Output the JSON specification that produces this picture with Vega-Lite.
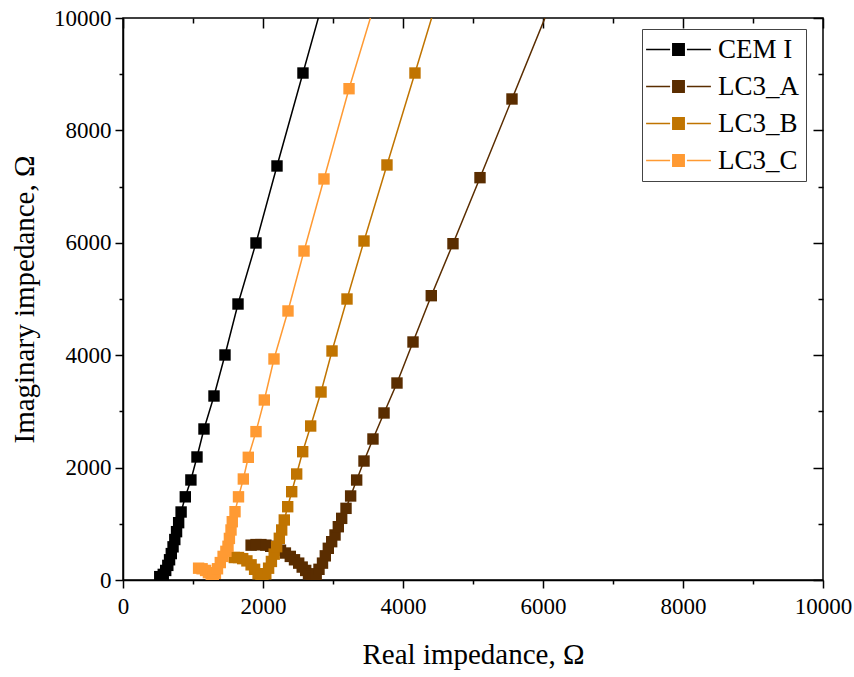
{
  "$schema": "https://vega.github.io/schema/vega-lite/v6.json",
  "width": 700,
  "height": 562,
  "autosize": {"type": "none"},
  "padding": {"left": 123, "top": 18, "right": 31, "bottom": 97},
  "background": "white",
  "config": {
    "font": "Liberation Serif",
    "view": {"stroke": "black", "strokeWidth": 1.5},
    "axis": {
      "grid": false,
      "domainColor": "black",
      "tickColor": "black",
      "tickWidth": 1.5,
      "domainWidth": 1.5,
      "labelColor": "black",
      "titleColor": "black",
      "labelFont": "Liberation Serif",
      "titleFont": "Liberation Serif",
      "labelFontSize": 23,
      "titleFontSize": 29,
      "titleFontWeight": "normal"
    }
  },
  "data": {
    "values": [
      {"s": "CEM I", "x": 525, "y": 60},
      {"s": "CEM I", "x": 575, "y": 100},
      {"s": "CEM I", "x": 610, "y": 170},
      {"s": "CEM I", "x": 640, "y": 260},
      {"s": "CEM I", "x": 665, "y": 360},
      {"s": "CEM I", "x": 690, "y": 470},
      {"s": "CEM I", "x": 715, "y": 590},
      {"s": "CEM I", "x": 740, "y": 720},
      {"s": "CEM I", "x": 765, "y": 860},
      {"s": "CEM I", "x": 795, "y": 1020},
      {"s": "CEM I", "x": 830, "y": 1210},
      {"s": "CEM I", "x": 890, "y": 1480},
      {"s": "CEM I", "x": 970, "y": 1780},
      {"s": "CEM I", "x": 1057, "y": 2189},
      {"s": "CEM I", "x": 1157, "y": 2687},
      {"s": "CEM I", "x": 1300, "y": 3274},
      {"s": "CEM I", "x": 1457, "y": 4004},
      {"s": "CEM I", "x": 1643, "y": 4911},
      {"s": "CEM I", "x": 1900, "y": 5997},
      {"s": "CEM I", "x": 2200, "y": 7367},
      {"s": "CEM I", "x": 2571, "y": 9021},
      {"s": "CEM I", "x": 3030, "y": 11070},

      {"s": "LC3_A", "x": 1830, "y": 620},
      {"s": "LC3_A", "x": 1900, "y": 630},
      {"s": "LC3_A", "x": 1970, "y": 630},
      {"s": "LC3_A", "x": 2040, "y": 620},
      {"s": "LC3_A", "x": 2110, "y": 600},
      {"s": "LC3_A", "x": 2180, "y": 570},
      {"s": "LC3_A", "x": 2250, "y": 530},
      {"s": "LC3_A", "x": 2320, "y": 480},
      {"s": "LC3_A", "x": 2390, "y": 420},
      {"s": "LC3_A", "x": 2450, "y": 360},
      {"s": "LC3_A", "x": 2510, "y": 300},
      {"s": "LC3_A", "x": 2560, "y": 230},
      {"s": "LC3_A", "x": 2610, "y": 170},
      {"s": "LC3_A", "x": 2650, "y": 110},
      {"s": "LC3_A", "x": 2690, "y": 60},
      {"s": "LC3_A", "x": 2720, "y": 40},
      {"s": "LC3_A", "x": 2760, "y": 100},
      {"s": "LC3_A", "x": 2800, "y": 190},
      {"s": "LC3_A", "x": 2850, "y": 300},
      {"s": "LC3_A", "x": 2890, "y": 430},
      {"s": "LC3_A", "x": 2933, "y": 564},
      {"s": "LC3_A", "x": 2981, "y": 682},
      {"s": "LC3_A", "x": 3029, "y": 801},
      {"s": "LC3_A", "x": 3076, "y": 948},
      {"s": "LC3_A", "x": 3124, "y": 1097},
      {"s": "LC3_A", "x": 3186, "y": 1275},
      {"s": "LC3_A", "x": 3252, "y": 1495},
      {"s": "LC3_A", "x": 3338, "y": 1779},
      {"s": "LC3_A", "x": 3443, "y": 2117},
      {"s": "LC3_A", "x": 3571, "y": 2509},
      {"s": "LC3_A", "x": 3729, "y": 2972},
      {"s": "LC3_A", "x": 3914, "y": 3505},
      {"s": "LC3_A", "x": 4143, "y": 4235},
      {"s": "LC3_A", "x": 4404, "y": 5059},
      {"s": "LC3_A", "x": 4714, "y": 5984},
      {"s": "LC3_A", "x": 5100, "y": 7159},
      {"s": "LC3_A", "x": 5557, "y": 8559},
      {"s": "LC3_A", "x": 6090, "y": 10190},

      {"s": "LC3_B", "x": 1590, "y": 400},
      {"s": "LC3_B", "x": 1650, "y": 400},
      {"s": "LC3_B", "x": 1710, "y": 380},
      {"s": "LC3_B", "x": 1770, "y": 340},
      {"s": "LC3_B", "x": 1830, "y": 270},
      {"s": "LC3_B", "x": 1880, "y": 190},
      {"s": "LC3_B", "x": 1930, "y": 110},
      {"s": "LC3_B", "x": 1970, "y": 60},
      {"s": "LC3_B", "x": 2000, "y": 40},
      {"s": "LC3_B", "x": 2040, "y": 110},
      {"s": "LC3_B", "x": 2080, "y": 210},
      {"s": "LC3_B", "x": 2120, "y": 330},
      {"s": "LC3_B", "x": 2160, "y": 460},
      {"s": "LC3_B", "x": 2195, "y": 593},
      {"s": "LC3_B", "x": 2233, "y": 742},
      {"s": "LC3_B", "x": 2267, "y": 890},
      {"s": "LC3_B", "x": 2304, "y": 1068},
      {"s": "LC3_B", "x": 2353, "y": 1304},
      {"s": "LC3_B", "x": 2410, "y": 1571},
      {"s": "LC3_B", "x": 2481, "y": 1886},
      {"s": "LC3_B", "x": 2567, "y": 2283},
      {"s": "LC3_B", "x": 2681, "y": 2740},
      {"s": "LC3_B", "x": 2829, "y": 3345},
      {"s": "LC3_B", "x": 2986, "y": 4075},
      {"s": "LC3_B", "x": 3200, "y": 5000},
      {"s": "LC3_B", "x": 3443, "y": 6032},
      {"s": "LC3_B", "x": 3771, "y": 7385},
      {"s": "LC3_B", "x": 4171, "y": 9021},
      {"s": "LC3_B", "x": 4640, "y": 10950},

      {"s": "LC3_C", "x": 1080, "y": 210},
      {"s": "LC3_C", "x": 1130, "y": 200},
      {"s": "LC3_C", "x": 1180, "y": 170},
      {"s": "LC3_C", "x": 1220, "y": 130},
      {"s": "LC3_C", "x": 1260, "y": 80},
      {"s": "LC3_C", "x": 1290, "y": 50},
      {"s": "LC3_C", "x": 1320, "y": 120},
      {"s": "LC3_C", "x": 1350, "y": 200},
      {"s": "LC3_C", "x": 1390, "y": 310},
      {"s": "LC3_C", "x": 1430, "y": 420},
      {"s": "LC3_C", "x": 1470, "y": 510},
      {"s": "LC3_C", "x": 1500, "y": 600},
      {"s": "LC3_C", "x": 1520, "y": 740},
      {"s": "LC3_C", "x": 1543, "y": 890},
      {"s": "LC3_C", "x": 1561, "y": 1037},
      {"s": "LC3_C", "x": 1600, "y": 1215},
      {"s": "LC3_C", "x": 1650, "y": 1480},
      {"s": "LC3_C", "x": 1719, "y": 1797},
      {"s": "LC3_C", "x": 1790, "y": 2183},
      {"s": "LC3_C", "x": 1900, "y": 2640},
      {"s": "LC3_C", "x": 2019, "y": 3203},
      {"s": "LC3_C", "x": 2157, "y": 3933},
      {"s": "LC3_C", "x": 2357, "y": 4787},
      {"s": "LC3_C", "x": 2586, "y": 5854},
      {"s": "LC3_C", "x": 2871, "y": 7136},
      {"s": "LC3_C", "x": 3229, "y": 8742},
      {"s": "LC3_C", "x": 3670, "y": 10560}
    ]
  },
  "resolve": {"axis": {"x": "independent", "y": "independent"}},
  "layer": [
    {
      "mark": {"type": "line", "strokeWidth": 1.5, "clip": true},
      "encoding": {
        "x": {"field": "x", "type": "quantitative", "scale": {"domain": [0, 10000], "nice": false}, "axis": null},
        "y": {"field": "y", "type": "quantitative", "scale": {"domain": [0, 10000], "nice": false}, "axis": null},
        "color": {
          "field": "s", "type": "nominal",
          "scale": {"domain": ["CEM I", "LC3_A", "LC3_B", "LC3_C"], "range": ["#000000", "#5a2d00", "#c07400", "#ff9a33"]},
          "legend": {
            "title": null,
            "orient": "none",
            "legendX": 519,
            "legendY": 11,
            "symbolType": "M-5.4,0H-1.4M1.4,0H5.4M-0.95,-0.95H0.95V0.95H-0.95Z",
            "symbolSize": 144,
            "symbolStrokeWidth": 1.5,
            "symbolOffset": 16,
            "labelOffset": 26,
            "labelFont": "Liberation Serif",
            "labelFontSize": 27,
            "labelColor": "black",
            "labelLimit": 0,
            "padding": 7,
            "rowPadding": 9,
            "strokeColor": "#444444",
            "fillColor": "white",
            "encode": {
              "symbols": {
                "update": {
                  "fill": {"scale": "color", "field": "value"},
                  "stroke": {"scale": "color", "field": "value"},
                  "opacity": {"value": 1},
                  "fillOpacity": {"value": 1},
                  "strokeOpacity": {"value": 1}
                }
              }
            }
          }
        }
      }
    },
    {
      "mark": {"type": "point", "shape": "square", "size": 130, "filled": true, "opacity": 1, "clip": true},
      "encoding": {
        "x": {"field": "x", "type": "quantitative", "scale": {"domain": [0, 10000], "nice": false}, "axis": null},
        "y": {"field": "y", "type": "quantitative", "scale": {"domain": [0, 10000], "nice": false}, "axis": null},
        "color": {"field": "s", "type": "nominal"}
      }
    },
    {
      "mark": {"type": "point", "opacity": 0},
      "encoding": {
        "x": {"field": "x", "type": "quantitative", "scale": {"domain": [0, 10000], "nice": false},
          "axis": {"orient": "bottom", "values": [0, 2000, 4000, 6000, 8000, 10000], "format": "d", "tickSize": 8, "labelPadding": 7, "labelFont": "Liberation Serif", "labelFontSize": 23, "title": "Real impedance, Ω", "titleFont": "Liberation Serif", "titlePadding": 22, "labelFlush": false}},
        "y": {"field": "y", "type": "quantitative", "scale": {"domain": [0, 10000], "nice": false},
          "axis": {"orient": "left", "values": [0, 2000, 4000, 6000, 8000, 10000], "format": "d", "tickSize": 8, "labelPadding": 4, "labelFont": "Liberation Serif", "labelFontSize": 23, "title": "Imaginary impedance, Ω", "titleFont": "Liberation Serif", "titlePadding": 14, "labelFlush": false}}
      }
    },
    {
      "mark": {"type": "point", "opacity": 0},
      "encoding": {
        "x": {"field": "x", "type": "quantitative", "scale": {"domain": [0, 10000], "nice": false},
          "axis": {"orient": "bottom", "values": [1000, 3000, 5000, 7000, 9000], "tickSize": 4, "labels": false, "domain": false, "title": null}},
        "y": {"field": "y", "type": "quantitative", "scale": {"domain": [0, 10000], "nice": false},
          "axis": {"orient": "left", "values": [1000, 3000, 5000, 7000, 9000], "tickSize": 4, "labels": false, "domain": false, "title": null}}
      }
    },
    {
      "mark": {"type": "point", "opacity": 0},
      "encoding": {
        "x": {"field": "x", "type": "quantitative", "scale": {"domain": [0, 10000], "nice": false},
          "axis": {"orient": "top", "values": [0, 2000, 4000, 6000, 8000, 10000], "tickSize": 10, "offset": -10, "labels": false, "domain": false, "title": null}},
        "y": {"field": "y", "type": "quantitative", "scale": {"domain": [0, 10000], "nice": false},
          "axis": {"orient": "right", "values": [0, 2000, 4000, 6000, 8000, 10000], "tickSize": 10, "offset": -10, "labels": false, "domain": false, "title": null}}
      }
    },
    {
      "mark": {"type": "point", "opacity": 0},
      "encoding": {
        "x": {"field": "x", "type": "quantitative", "scale": {"domain": [0, 10000], "nice": false},
          "axis": {"orient": "top", "values": [1000, 3000, 5000, 7000, 9000], "tickSize": 5, "offset": -5, "labels": false, "domain": false, "title": null}},
        "y": {"field": "y", "type": "quantitative", "scale": {"domain": [0, 10000], "nice": false},
          "axis": {"orient": "right", "values": [1000, 3000, 5000, 7000, 9000], "tickSize": 5, "offset": -5, "labels": false, "domain": false, "title": null}}
      }
    }
  ]
}
